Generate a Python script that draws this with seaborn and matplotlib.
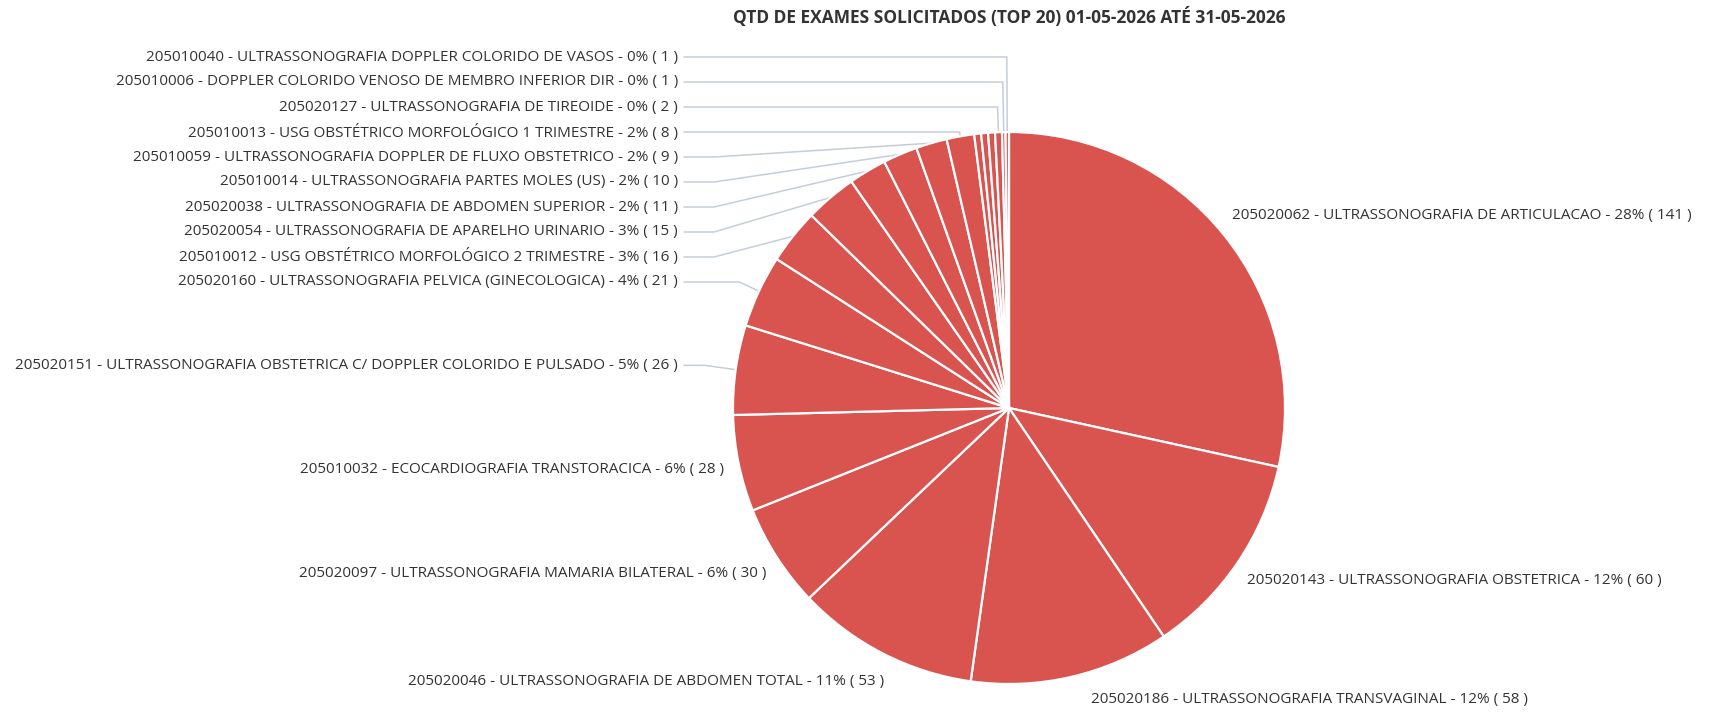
import numpy as np
import matplotlib
matplotlib.use("Agg")
import matplotlib.pyplot as plt
import seaborn as sns

# exam data, clockwise from 12 o'clock
# (three thin slices near the top carry no label in the original chart)
codes = ["205020062", "205020143", "205020186", "205020046", "205020097",
         "205010032", "205020151", "205020160", "205010012", "205020054",
         "205020038", "205010014", "205010059", "205010013", None, None, None,
         "205020127", "205010006", "205010040"]
names = ["ULTRASSONOGRAFIA DE ARTICULACAO",
         "ULTRASSONOGRAFIA OBSTETRICA",
         "ULTRASSONOGRAFIA TRANSVAGINAL",
         "ULTRASSONOGRAFIA DE ABDOMEN TOTAL",
         "ULTRASSONOGRAFIA MAMARIA BILATERAL",
         "ECOCARDIOGRAFIA TRANSTORACICA",
         "ULTRASSONOGRAFIA OBSTETRICA C/ DOPPLER COLORIDO E PULSADO",
         "ULTRASSONOGRAFIA PELVICA (GINECOLOGICA)",
         "USG OBSTÉTRICO MORFOLÓGICO 2 TRIMESTRE",
         "ULTRASSONOGRAFIA DE APARELHO URINARIO",
         "ULTRASSONOGRAFIA DE ABDOMEN SUPERIOR",
         "ULTRASSONOGRAFIA PARTES MOLES (US)",
         "ULTRASSONOGRAFIA DOPPLER DE FLUXO OBSTETRICO",
         "USG OBSTÉTRICO MORFOLÓGICO 1 TRIMESTRE",
         None, None, None,
         "ULTRASSONOGRAFIA DE TIREOIDE",
         "DOPPLER COLORIDO VENOSO DE MEMBRO INFERIOR DIR",
         "ULTRASSONOGRAFIA DOPPLER COLORIDO DE VASOS"]
pcts = [28, 12, 12, 11, 6, 6, 5, 4, 3, 3, 2, 2, 2, 2, None, None, None, 0, 0, 0]
counts = [141, 60, 58, 53, 30, 28, 26, 21, 16, 15, 11, 10, 9, 8, 2, 2, 2, 2, 1, 1]

title = "QTD DE EXAMES SOLICITADOS (TOP 20) 01-05-2026 ATÉ 31-05-2026"

sns.set_theme(style="white")
plt.rcParams["font.family"] = ["Open Sans", "DejaVu Sans"]

W, H = 1721, 712
fig = plt.figure(figsize=(W / 100, H / 100), dpi=100)
ax = fig.add_axes([0, 0, 1, 1])

cx, cy, r = 1009, H - 408, 276
red = "#d9534f"
txt_col = "#333333"
line_col = "#c5cddc"
fs = 11

wedges, _ = ax.pie(counts, startangle=90, counterclock=False,
                   center=(cx, cy), radius=r, colors=[red] * len(counts),
                   wedgeprops=dict(edgecolor="white", linewidth=1.6))
ax.set_xlim(0, W)
ax.set_ylim(0, H)
ax.set_aspect("equal")
ax.axis("off")

total = sum(counts)

# label layout: natural position just outside the pie, then spread to avoid overlap
R_lab = r + 31
spacing = 25
y_top, y_bot = H - 57, H - 699

items = []
for i, w in enumerate(wedges):
    if codes[i] is None:
        continue
    th = np.deg2rad((w.theta1 + w.theta2) / 2)
    side = "left" if np.cos(th) < 0 else "right"
    items.append(dict(i=i, th=th, side=side, ny=cy + R_lab * np.sin(th)))


def distribute(group):
    group = sorted(group, key=lambda d: -d["ny"])
    clusters = [[d] for d in group]

    def place(cl):
        n = len(cl)
        mid = np.mean([d["ny"] for d in cl])
        top = mid + (n - 1) * spacing / 2
        top = min(top, y_top)
        bot = top - (n - 1) * spacing
        if bot < y_bot:
            top += y_bot - bot
        return top

    changed = True
    while changed:
        changed = False
        for k in range(len(clusters) - 1):
            ta = place(clusters[k])
            ba = ta - (len(clusters[k]) - 1) * spacing
            tb = place(clusters[k + 1])
            if ba - tb < spacing:
                clusters[k] = clusters[k] + clusters.pop(k + 1)
                changed = True
                break
    for cl in clusters:
        top = place(cl)
        for j, d in enumerate(cl):
            d["y"] = top - j * spacing


distribute([d for d in items if d["side"] == "left"])
distribute([d for d in items if d["side"] == "right"])

col_x = cx - r - 55
for d in items:
    i, th, y = d["i"], d["th"], d["y"]
    label = f"{codes[i]} - {names[i]} - {pcts[i]}% ( {counts[i]} )"
    frac = counts[i] / total
    dy = y - cy
    reach = np.sqrt(max(R_lab ** 2 - dy ** 2, 0))
    if d["side"] == "right":
        x = cx + reach - 16
        ax.text(x, y, label, ha="left", va="center", fontsize=fs, color=txt_col)
        continue
    if frac < 0.055:
        x = col_x
        ax.text(x, y, label, ha="right", va="center", fontsize=fs, color=txt_col)
        # connector: horizontal run, then to slice edge
        ex, ey = cx + r * np.cos(th), cy + r * np.sin(th)
        sx = x + 6
        if y > ey:
            kx = cx + (y - cy) / np.tan(th)
        else:
            kx = sx + 30
        ax.plot([sx, kx, ex], [y, y, ey], color=line_col, lw=1.1,
                solid_joinstyle="miter", zorder=0)
    else:
        x = cx - reach + 16
        ax.text(x, y, label, ha="right", va="center", fontsize=fs, color=txt_col)

fig.text(cx / W, 1 - 17 / H, title, ha="center", va="center",
         fontsize=12.5, fontweight="bold", color=txt_col)

fig.savefig("out.png", dpi=100, facecolor="white")
